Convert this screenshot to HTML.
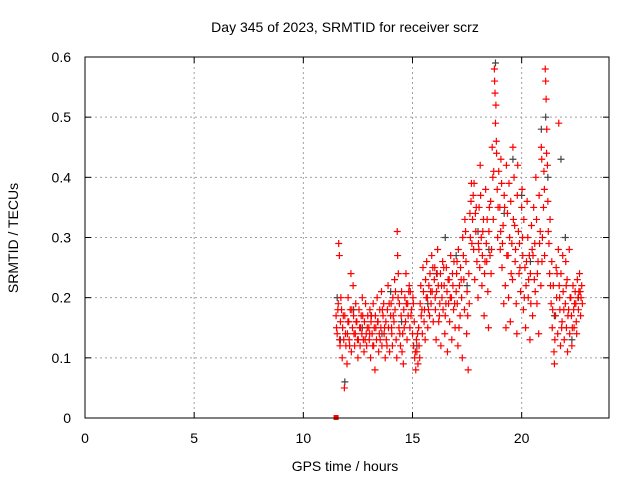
<!DOCTYPE html>
<html><head><meta charset="utf-8"><style>
body{margin:0;background:#fff}
svg{display:block;font-family:"Liberation Sans",sans-serif}
</style></head><body>
<svg id="chart" width="640" height="480">
<rect width="640" height="480" fill="#fff"/>
<text x="345" y="32" font-size="14" text-anchor="middle">Day 345 of 2023, SRMTID for receiver scrz</text>
<text x="345" y="471" font-size="14" text-anchor="middle">GPS time / hours</text>
<text x="18" y="238" font-size="14" text-anchor="middle" transform="rotate(-90 18 238)">SRMTID / TECUs</text>
<g id="grid"></g>
<g id="ticks"></g>
<g id="grey"></g>
<g id="red"></g>
<rect x="85" y="57" width="524" height="361" fill="none" stroke="#000" stroke-width="1"/>
</svg>
<script>
const xTicks = [0, 5, 10, 15, 20];
const yTicks = [0, 0.1, 0.2, 0.3, 0.4, 0.5, 0.6];
const yTickLabels = ["0", "0.1", "0.2", "0.3", "0.4", "0.5", "0.6"];
const redHours = [11.50,11.55,11.60,11.62,11.65,11.68,11.70,11.75,11.78,11.80,11.85,11.88,11.90,11.95,12.00,12.02,12.05,12.08,12.10,12.15,12.18,12.20,12.25,12.28,12.30,12.35,12.38,12.40,12.45,12.48,12.50,12.55,12.58,12.60,12.65,12.68,12.70,12.75,12.78,12.80,12.85,12.88,12.90,12.95,13.00,13.02,13.05,13.08,13.10,13.15,13.18,13.20,13.25,13.28,13.30,13.35,13.38,13.40,13.45,13.48,13.50,13.55,13.58,13.60,13.65,13.68,13.70,13.75,13.78,13.80,13.85,13.88,13.90,13.95,14.00,14.02,14.05,14.08,14.10,14.15,14.18,14.20,14.25,14.28,14.30,14.32,14.35,14.38,14.40,14.45,14.48,14.50,14.55,14.58,14.60,14.65,14.68,14.70,14.75,14.78,14.80,14.85,14.88,14.90,14.95,15.00,15.02,15.05,15.08,15.10,15.15,15.18,15.20,15.25,15.28,15.30,15.35,15.38,15.40,15.45,15.48,15.50,15.55,15.58,15.60,15.65,15.68,15.70,15.75,15.78,15.80,15.85,15.88,15.90,15.95,16.00,16.02,16.05,16.08,16.10,16.15,16.18,16.20,16.25,16.28,16.30,16.35,16.38,16.40,16.45,16.48,16.50,16.55,16.58,16.60,16.65,16.68,16.70,16.75,16.78,16.80,16.85,16.88,16.90,16.95,17.00,17.02,17.05,17.08,17.10,17.15,17.18,17.20,17.25,17.28,17.30,17.35,17.38,17.40,17.45,17.48,17.50,17.55,17.58,17.60,17.65,17.68,17.70,17.75,17.78,17.80,17.85,17.88,17.90,17.95,18.00,18.02,18.05,18.08,18.10,18.15,18.18,18.20,18.25,18.28,18.30,18.35,18.38,18.40,18.45,18.48,18.50,18.55,18.58,18.60,18.65,18.68,18.70,18.75,18.76,18.78,18.80,18.82,18.85,18.88,18.90,18.95,19.00,19.02,19.05,19.08,19.10,19.15,19.18,19.20,19.25,19.28,19.30,19.35,19.38,19.40,19.45,19.48,19.50,19.55,19.58,19.60,19.65,19.68,19.70,19.75,19.78,19.80,19.85,19.88,19.90,19.95,20.00,20.02,20.05,20.08,20.10,20.15,20.18,20.20,20.25,20.28,20.30,20.35,20.38,20.40,20.45,20.48,20.50,20.55,20.58,20.60,20.65,20.68,20.70,20.75,20.78,20.80,20.85,20.88,20.90,20.92,20.95,21.00,21.02,21.05,21.08,21.10,21.12,21.15,21.18,21.20,21.25,21.28,21.30,21.35,21.38,21.40,21.45,21.48,21.50,21.55,21.58,21.60,21.65,21.68,21.70,21.72,21.75,21.78,21.80,21.85,21.88,21.90,21.95,22.00,22.02,22.05,22.08,22.10,22.15,22.18,22.20,22.25,22.28,22.30,22.35,22.38,22.40,22.45,22.48,22.50,22.55,22.58,22.60,22.65,22.68,22.70,22.75,22.78];
const redTecu = [.17,.14,.19,.29,.27,.12,.16,.18,.10,.15,.13,.05,.17,.12,.09,.14,.20,.16,.13,.18,.24,.11,.15,.22,.17,.12,.14,.19,.16,.13,.10,.18,.15,.12,.17,.14,.20,.13,.11,.16,.19,.14,.12,.17,.15,.13,.18,.10,.16,.14,.12,.19,.15,.08,.17,.13,.20,.16,.11,.14,.18,.15,.21,.12,.17,.19,.14,.10,.16,.13,.18,.22,.15,.11,.17,.19,.14,.12,.20,.16,.23,.18,.13,.10,.31,.27,.24,.15,.19,.12,.17,.21,.14,.09,.18,.20,.16,.24,.13,.19,.17,.22,.15,.21,.18,.14,.20,.12,.16,.10,.08,.13,.11,.09,.15,.12,.19,.22,.17,.14,.25,.21,.18,.13,.23,.26,.20,.15,.22,.17,.24,.19,.27,.21,.16,.23,.25,.18,.13,.21,.28,.22,.16,.19,.24,.12,.20,.26,.18,.22,.14,.17,.25,.21,.11,.19,.23,.16,.27,.20,.13,.22,.18,.26,.15,.21,.24,.19,.12,.28,.22,.17,.25,.20,.10,.30,.23,.18,.33,.26,.14,.21,.08,.24,.19,.30,.36,.39,.33,.37,.28,.23,.34,.31,.26,.20,.29,.35,.25,.42,.30,.22,.27,.33,.17,.24,.38,.29,.26,.21,.15,.31,.27,.36,.24,.45,.40,.33,.58,.56,.54,.49,.52,.44,.38,.30,.41,.35,.28,.43,.39,.25,.32,.19,.37,.22,.15,.42,.34,.27,.20,.30,.16,.36,.29,.23,.45,.40,.32,.26,.19,.14,.37,.31,.24,.29,.21,.35,.38,.27,.18,.33,.25,.15,.22,.36,.30,.20,.27,.13,.24,.32,.28,.17,.35,.23,.29,.40,.33,.19,.26,.14,.37,.31,.22,.45,.43,.30,.35,.41,.27,.58,.56,.53,.48,.42,.36,.29,.24,.33,.19,.26,.15,.22,.11,.09,.17,.25,.20,.14,.28,.49,.22,.18,.12,.24,.16,.27,.21,.13,.19,.26,.15,.23,.11,.18,.28,.14,.20,.17,.12,.22,.18,.15,.21,.19,.16,.23,.20,.18,.24,.21,.17,.22,.19];
const redHoursB = [11.52,11.58,11.66,11.72,11.83,11.93,12.04,12.12,12.22,12.32,12.42,12.52,12.62,12.72,12.83,12.93,13.04,13.12,13.22,13.32,13.42,13.52,13.62,13.72,13.83,13.93,14.04,14.12,14.22,14.34,14.42,14.52,14.62,14.72,14.83,14.93,15.04,15.13,15.23,15.33,15.43,15.53,15.63,15.73,15.83,15.93,16.04,16.13,16.23,16.33,16.43,16.53,16.63,16.73,16.83,16.93,17.04,17.13,17.23,17.33,17.43,17.53,17.63,17.72,17.82,17.92,18.04,18.12,18.22,18.32,18.42,18.52,18.62,18.72,18.84,18.92,19.04,19.12,19.22,19.32,19.42,19.52,19.62,19.72,19.82,19.92,20.04,20.12,20.22,20.32,20.42,20.52,20.62,20.72,20.82,20.93,21.04,21.14,21.22,21.32,21.42,21.52,21.62,21.74,21.83,21.93,22.04,22.12,22.22,22.32,22.42,22.52,22.62,22.72];
const redTecuB = [.15,.18,.13,.20,.17,.14,.16,.12,.18,.14,.16,.13,.15,.17,.13,.15,.14,.17,.12,.15,.16,.13,.18,.15,.12,.19,.15,.17,.21,.20,.14,.11,.15,.19,.21,.17,.19,.11,.14,.10,.18,.16,.20,.18,.21,.25,.20,.24,.17,.22,.25,.19,.23,.20,.24,.19,.26,.15,.23,.27,.31,.17,.34,.29,.39,.35,.28,.37,.31,.26,.33,.35,.28,.41,.46,.35,.31,.29,.35,.27,.39,.24,.33,.28,.42,.25,.30,.20,.26,.23,.19,.27,.21,.24,.29,.26,.38,.44,.31,.22,.18,.13,.24,.20,.15,.18,.22,.17,.20,.15,.19,.14,.21,.20];
const greyHours = [11.55,11.70,11.90,12.30,12.70,13.10,13.60,14.00,14.50,15.20,15.70,16.10,16.50,17.00,17.50,18.00,18.50,18.80,19.20,19.60,20.00,20.40,20.90,21.10,21.20,21.50,21.80,22.00,22.30,22.60];
const greyTecu = [.20,.13,.06,.18,.15,.17,.14,.21,.16,.12,.19,.24,.30,.27,.22,.31,.28,.59,.34,.43,.37,.26,.48,.50,.40,.17,.43,.30,.13,.20];
const NS = "http://www.w3.org/2000/svg";
const X0 = 85, X1 = 609, Y0 = 418, Y1 = 57;
function xs(h){ return X0 + h / 24 * (X1 - X0); }
function ys(v){ return Y0 - v / 0.6 * (Y0 - Y1); }
const grid = document.getElementById('grid'), ticks = document.getElementById('ticks');
function mk(tag, attrs, parent){ const e = document.createElementNS(NS, tag); for (const k in attrs) e.setAttribute(k, attrs[k]); parent.appendChild(e); return e; }
xTicks.forEach(function(t){
  const x = xs(t);
  if (t > 0) {
    const g = mk('line', {x1:x, x2:x, y1:Y1, y2:Y0, stroke:'#a0a0a0', 'stroke-dasharray':'2,3'}, grid);
    
    
  }
  mk('line', {x1:x, x2:x, y1:Y0, y2:Y0-6, stroke:'#000'}, ticks);
  mk('line', {x1:x, x2:x, y1:Y1, y2:Y1+6, stroke:'#000'}, ticks);
  const l = mk('text', {x:x, y:443, 'font-size':14, 'text-anchor':'middle'}, ticks);
  l.textContent = t;
  
  
});
yTicks.forEach(function(v, i){
  const y = ys(v);
  if (i > 0 && i < yTicks.length - 1) {
    const g = mk('line', {x1:X0, x2:X1, y1:y, y2:y, stroke:'#a0a0a0', 'stroke-dasharray':'2,3'}, grid);
    
    
  }
  mk('line', {x1:X0, x2:X0+6, y1:y, y2:y, stroke:'#000'}, ticks);
  mk('line', {x1:X1, x2:X1-6, y1:y, y2:y, stroke:'#000'}, ticks);
  const l = mk('text', {x:71, y:y+5, 'font-size':14, 'text-anchor':'end'}, ticks);
  l.textContent = yTickLabels[i];
  
  
});
function plus(parent, hours, vals, color, name){
  let d = '';
  for (let i = 0; i < hours.length; i++) {
    const x = xs(hours[i]), y = ys(vals[i]);
    d += 'M' + (x-3.5) + ' ' + y + 'h7M' + x + ' ' + (y-3.5) + 'v7';
  }
  const p = mk('path', {d:d, stroke:color, 'stroke-width':1.2, fill:'none'}, parent);
  
  
}
plus(document.getElementById('grey'), greyHours, greyTecu, '#444', 'grey-points');
plus(document.getElementById('red'), redHours, redTecu, '#ff0000', 'red-points');
plus(document.getElementById('red'), redHoursB, redTecuB, '#ff0000', 'red-points-extra');
const sq = mk('rect', {x:xs(11.5)-2.5, y:ys(0)-3, width:5, height:5, fill:'#ff0000'}, document.getElementById('red'));


</script>
</body></html>
